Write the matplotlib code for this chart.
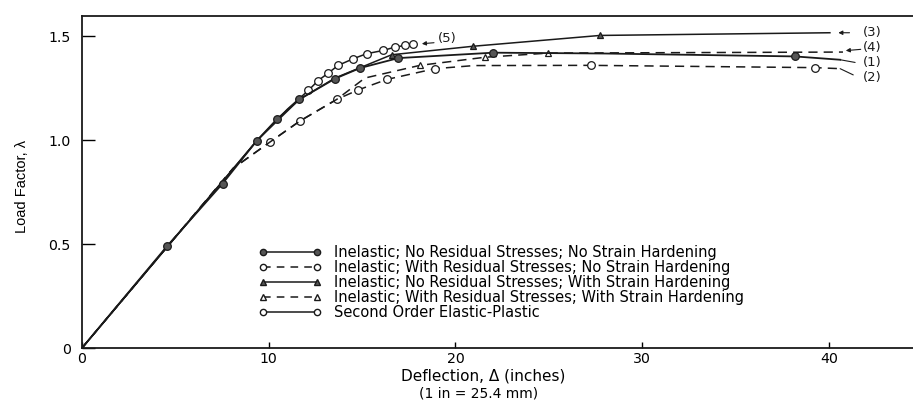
import numpy as np
import matplotlib.pyplot as plt
from matplotlib.lines import Line2D

plt.rcParams['font.family'] = ['DejaVu Sans']

# (1) Inelastic; No Residual Stresses; No Strain Hardening
x1 = [0, 4.57, 7.53, 9.35, 10.43, 11.64, 13.55, 14.89, 16.94, 22.02, 28.0, 38.18, 40.6]
y1 = [0, 0.492, 0.792, 0.997, 1.101, 1.197, 1.297, 1.348, 1.396, 1.422, 1.418, 1.404, 1.388]
m1 = [1, 2, 3, 4, 5, 6, 7, 8, 9, 11]

# (2) Inelastic; With Residual Stresses; No Strain Hardening
x2 = [0, 8.09, 10.07, 11.67, 13.64, 14.80, 16.32, 18.90, 21.0, 27.24, 39.25, 40.6]
y2 = [0, 0.865, 0.992, 1.093, 1.197, 1.243, 1.293, 1.345, 1.360, 1.361, 1.350, 1.345]
m2 = [2, 3, 4, 5, 6, 7, 9, 10]

# (3) Inelastic; No Residual Stresses; With Strain Hardening
x3 = [0, 9.35, 11.64, 13.55, 16.58, 20.95, 27.74, 40.05]
y3 = [0, 0.997, 1.197, 1.300, 1.412, 1.453, 1.505, 1.518]
m3 = [4, 5, 6]

# (4) Inelastic; With Residual Stresses; With Strain Hardening
x4 = [0, 8.09, 10.07, 11.67, 13.64, 15.15, 18.10, 21.58, 24.97, 40.75]
y4 = [0, 0.865, 0.992, 1.093, 1.197, 1.300, 1.361, 1.400, 1.420, 1.425]
m4 = [6, 7, 8]

# (5) Second Order Elastic-Plastic
x5 = [0, 9.35, 11.0, 12.12, 12.65, 13.19, 13.72, 14.53, 15.24, 16.14, 16.76, 17.30, 17.74]
y5 = [0, 0.997, 1.15, 1.240, 1.288, 1.324, 1.361, 1.393, 1.417, 1.433, 1.449, 1.457, 1.462]
m5 = [3, 4, 5, 6, 7, 8, 9, 10, 11, 12]

labels = ['Inelastic; No Residual Stresses; No Strain Hardening',
          'Inelastic; With Residual Stresses; No Strain Hardening',
          'Inelastic; No Residual Stresses; With Strain Hardening',
          'Inelastic; With Residual Stresses; With Strain Hardening',
          'Second Order Elastic-Plastic']

fig = plt.figure(figsize=(9.13, 4.05), dpi=100)
ax = fig.add_axes([0.0898, 0.1407, 0.9102, 0.8205])

k = '#1a1a1a'
ax.plot(x5, y5, '-', color=k, lw=1.1, marker='o', mfc='white', mec=k, ms=5.5, mew=0.9, markevery=m5, zorder=3)
ax.plot(x2, y2, '--', color=k, lw=1.1, dashes=(6, 4), marker='o', mfc='white', mec=k, ms=5.5, mew=0.9, markevery=m2, zorder=2)
ax.plot(x4, y4, '--', color=k, lw=1.1, dashes=(6, 4), marker='^', mfc='white', mec=k, ms=5, mew=0.9, markevery=m4, zorder=2)
ax.plot(x3, y3, '-', color=k, lw=1.1, marker='^', mfc='#555555', mec=k, ms=5, mew=0.9, markevery=m3, zorder=3)
ax.plot(x1, y1, '-', color=k, lw=1.3, marker='o', mfc='#555555', mec=k, ms=5.5, mew=0.9, markevery=m1, zorder=4)

# legend handles
h = [Line2D([], [], color=k, lw=1.1, ls='-', marker='o', mfc='#555555', mec=k, ms=4.5),
     Line2D([], [], color=k, lw=1.1, ls=(0, (5, 4)), marker='o', mfc='white', mec=k, ms=4.5),
     Line2D([], [], color=k, lw=1.1, ls='-', marker='^', mfc='#555555', mec=k, ms=4.5),
     Line2D([], [], color=k, lw=1.1, ls=(0, (5, 4)), marker='^', mfc='white', mec=k, ms=4.5),
     Line2D([], [], color=k, lw=1.1, ls='-', marker='o', mfc='white', mec=k, ms=4.5)]
ax.legend(h, labels, loc='upper left', bbox_to_anchor=(0.213, 0.31), frameon=False,
          numpoints=2, handlelength=4.25, handletextpad=0.9, labelspacing=0.0,
          borderpad=0, borderaxespad=0, prop={'size': 10.5})

# curve tags
ap = dict(arrowstyle='-|>', color=k, lw=0.8, mutation_scale=6, shrinkA=0, shrinkB=0)
ln = dict(arrowstyle='-', color=k, lw=0.8, shrinkA=0, shrinkB=0)
ax.annotate('', xy=(40.5, 1.518), xytext=(41.1, 1.518), arrowprops=ap)
ax.annotate('', xy=(40.9, 1.432), xytext=(41.7, 1.438), arrowprops=ap)
ax.annotate('', xy=(18.2, 1.465), xytext=(18.85, 1.470), arrowprops=ap)
ax.annotate('', xy=(40.6, 1.388), xytext=(41.4, 1.375), arrowprops=ln)
ax.annotate('', xy=(40.6, 1.345), xytext=(41.3, 1.315), arrowprops=ln)
for txt, tx, ty in [('(3)', 41.8, 1.520), ('(4)', 41.8, 1.445), ('(1)', 41.8, 1.375),
                    ('(2)', 41.8, 1.303), ('(5)', 19.05, 1.490)]:
    ax.text(tx, ty, txt, fontsize=9.5, ha='left', va='center', color=k)

ax.set_xlim(0, 44.5)
ax.set_ylim(0, 1.6)
ax.set_xticks([0, 10, 20, 30, 40])
ax.set_yticks([0, 0.5, 1.0, 1.5])
ax.set_yticklabels(['0', '0.5', '1.0', '1.5'])
ax.tick_params(axis='x', direction='in', length=4.5, width=1, labelsize=10.2, pad=3)
ax.tick_params(axis='y', direction='in', length=9, width=1, labelsize=10.2, pad=8)
ax.spines['right'].set_visible(False)
for s in ['left', 'bottom', 'top']:
    ax.spines[s].set_linewidth(1.3)
    ax.spines[s].set_color(k)

ax.set_xlabel('Deflection, \u0394 (inches)', fontsize=11)
ax.xaxis.set_label_coords(0.4826, -0.084)
ax.xaxis.label.set_va('center')
ax.set_ylabel('Load Factor, \u03bb', fontsize=10.5,
              family=['Liberation Sans Narrow', 'Liberation Sans'])
ax.yaxis.set_label_coords(-0.0722, 0.4875)
ax.yaxis.label.set_va('center')
fig.text(0.5246, 0.0296, '(1 in = 25.4 mm)', fontsize=10, ha='center', va='center')

fig.savefig('out.png', dpi=100)
